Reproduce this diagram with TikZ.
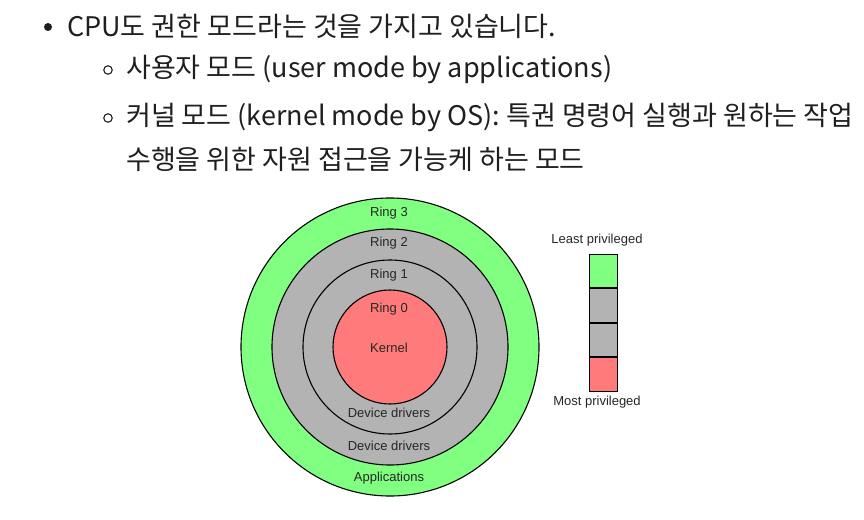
\documentclass[tikz,border=0pt]{standalone}
\usepackage{fontspec}
\setmainfont{Noto Sans CJK KR}
\newfontfamily\labelfont{Liberation Sans}
\usetikzlibrary{positioning}
\definecolor{ringGreen}{HTML}{80FF80}
\definecolor{ringGray}{HTML}{B3B3B3}
\definecolor{ringRed}{HTML}{FF7B7B}
\definecolor{inkText}{HTML}{1F1F1F}
\definecolor{labelText}{HTML}{262626}
\begin{document}
\begin{tikzpicture}
[x=1pt,y=-1pt,
  ringDecorate/.style={shape=circle,draw,line width=1.1pt,inner sep=0pt},
  labelDecorate/.style={font=\labelfont\fontsize{13}{15}\selectfont,text=labelText,inner sep=0pt},
  legendDecorate/.style={shape=rectangle,draw,line width=1pt,minimum width=28pt,minimum height=33.5pt,inner sep=0pt},
  itemDecorate/.style={anchor=west,font=\fontsize{27}{31}\selectfont,text=inkText,inner sep=0pt},
  scale=1]
\useasboundingbox (0,0) rectangle (864,519);
%% bullet list
\node (dot1) at (48,27) [shape=circle,fill=inkText,minimum size=8pt,inner sep=0pt] {};
\node (dot2) at (108,70) [shape=circle,draw=inkText,line width=1.1pt,minimum size=8.5pt,inner sep=0pt] {};
\node (dot3) at (108,118) [shape=circle,draw=inkText,line width=1.1pt,minimum size=8.5pt,inner sep=0pt] {};
\node (item1) at (67,26) [itemDecorate] {CPU도 권한 모드라는 것을 가지고 있습니다.};
\node (item2) at (126,69) [itemDecorate] {사용자 모드 (user mode by applications)};
\node (item3) at (126,117) [itemDecorate] {커널 모드 (kernel mode by OS): 특권 명령어 실행과 원하는 작업};
\node (item4) at (126,159) [itemDecorate] {수행을 위한 자원 접근을 가능케 하는 모드};
%% rings
\foreach \ringname/\ringcolor/\ringsize in {
  ring3/ringGreen/298, ring2/ringGray/236, ring1/ringGray/174, ring0/ringRed/114}
{
  \node (\ringname) at (390,347) [ringDecorate,fill=\ringcolor,minimum size=\ringsize pt] {};
}
%% ring labels
\foreach \labelname/\y/\labeltext in {
  ringthree/213/Ring 3, ringtwo/243/Ring 2, ringone/275/Ring 1, ringzero/309/Ring 0,
  kernel/348/Kernel, drivers1/413/Device drivers, drivers2/446/Device drivers,
  apps/478/Applications}
{
  \node (\labelname) at (389,\y) [labelDecorate] {\labeltext};
}
%% legend
\node (least) at (597,240) [labelDecorate] {Least privileged};
\node (box3) at (603,271) [legendDecorate,fill=ringGreen] {};
\node (box2) [legendDecorate,fill=ringGray,below=0pt of box3] {};
\node (box1) [legendDecorate,fill=ringGray,below=0pt of box2] {};
\node (box0) [legendDecorate,fill=ringRed,below=0pt of box1] {};
\node (most) at (597,402) [labelDecorate] {Most privileged};
\end{tikzpicture}
\end{document}
